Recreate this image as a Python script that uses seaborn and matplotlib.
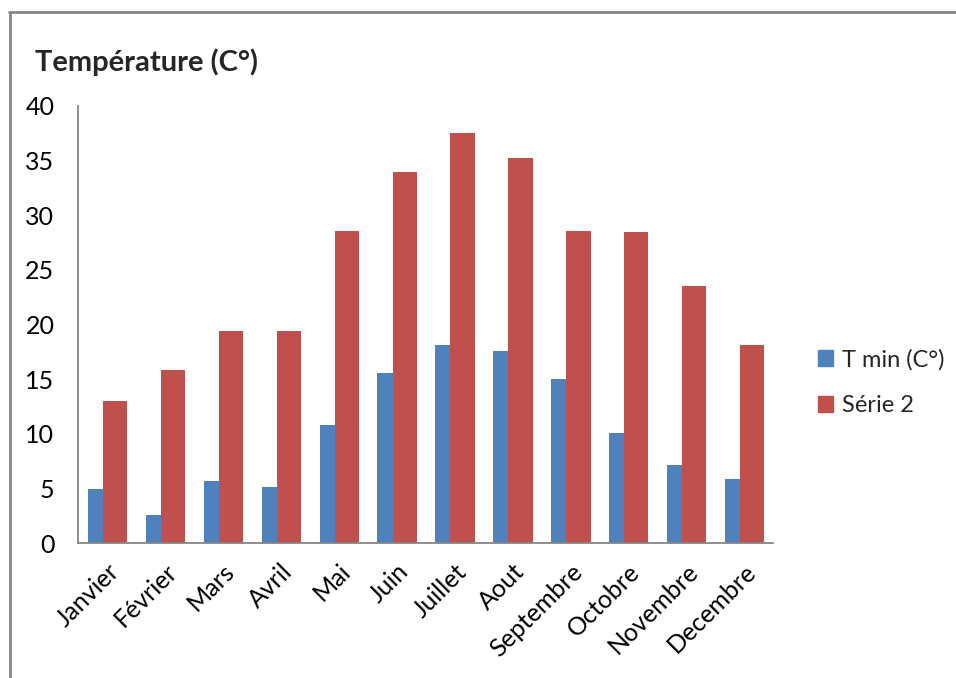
import matplotlib
matplotlib.use("Agg")
import matplotlib.pyplot as plt
import seaborn as sns
import pandas as pd
from matplotlib.lines import Line2D

months = ["Janvier", "Février", "Mars", "Avril", "Mai", "Juin", "Juillet",
          "Aout", "Septembre", "Octobre", "Novembre", "Decembre"]
t_min = [4.9, 2.6, 5.7, 5.1, 10.8, 15.6, 18.1, 17.6, 15.0, 10.1, 7.1, 5.9]
serie2 = [13.0, 15.8, 19.4, 19.4, 28.6, 34.0, 37.5, 35.2, 28.6, 28.5, 23.5, 18.1]
series_names = ["T min (C°)", "Série 2"]
colors = ["#4F81BD", "#C0504D"]

df = pd.DataFrame({
    "mois": months * 2,
    "valeur": t_min + serie2,
    "serie": [series_names[0]] * len(months) + [series_names[1]] * len(months),
})

sns.set_theme(style="white")
plt.rcParams["font.family"] = ["Lato", "DejaVu Sans"]

fig = plt.figure(figsize=(9.56, 6.78), dpi=100)
ax = fig.add_axes([0.0816, 0.1991, 0.727, 0.6446])

sns.barplot(data=df, x="mois", y="valeur", hue="serie", order=months,
            hue_order=series_names, palette=colors, ax=ax, width=0.68,
            saturation=1, legend=False, edgecolor="none", linewidth=0)

# Excel-style clustered bars: narrow blue bar followed by a wider red bar
blue_span = (-0.33, -0.07)
red_span = (-0.07, 0.35)
n = len(months)
for i, p in enumerate(ax.patches[:2 * n]):
    cat = i % n
    lo, hi = blue_span if i < n else red_span
    p.set_x(cat + lo)
    p.set_width(hi - lo)

ax.set_xlim(-0.5, n - 0.5)
ax.set_ylim(0, 40)
ax.set_yticks(range(0, 41, 5))
ax.set_xlabel("")
ax.set_ylabel("")

for s in ["top", "right"]:
    ax.spines[s].set_visible(False)
for s in ["left", "bottom"]:
    ax.spines[s].set_color("#868686")
    ax.spines[s].set_linewidth(1.3)
ax.tick_params(axis="both", length=0, labelsize=18, colors="black")
ax.tick_params(axis="y", pad=17)
ax.set_xticks(range(n))
ax.set_xticklabels(months, rotation=45, ha="right", rotation_mode="anchor",
                   fontsize=18)
ax.tick_params(axis="x", pad=12)

fig.text(0.037, 0.908, "Température (C°)", fontsize=21, fontweight="bold",
         ha="left", va="center")

handles = [plt.Rectangle((0, 0), 1, 1, color=c) for c in colors]
fig.legend(handles, series_names, loc="center left",
           bbox_to_anchor=(0.833, 0.436), frameon=False, fontsize=17,
           handlelength=0.65, handleheight=0.65, handletextpad=0.4,
           labelspacing=1.05)

# outer chart frame
fig.add_artist(Line2D([0.0094, 1.0], [0.982, 0.982], transform=fig.transFigure,
                      color="#868686", linewidth=2))
fig.add_artist(Line2D([0.0105, 0.0105], [0.0, 0.982], transform=fig.transFigure,
                      color="#868686", linewidth=2))

fig.savefig("out.png", dpi=100)
